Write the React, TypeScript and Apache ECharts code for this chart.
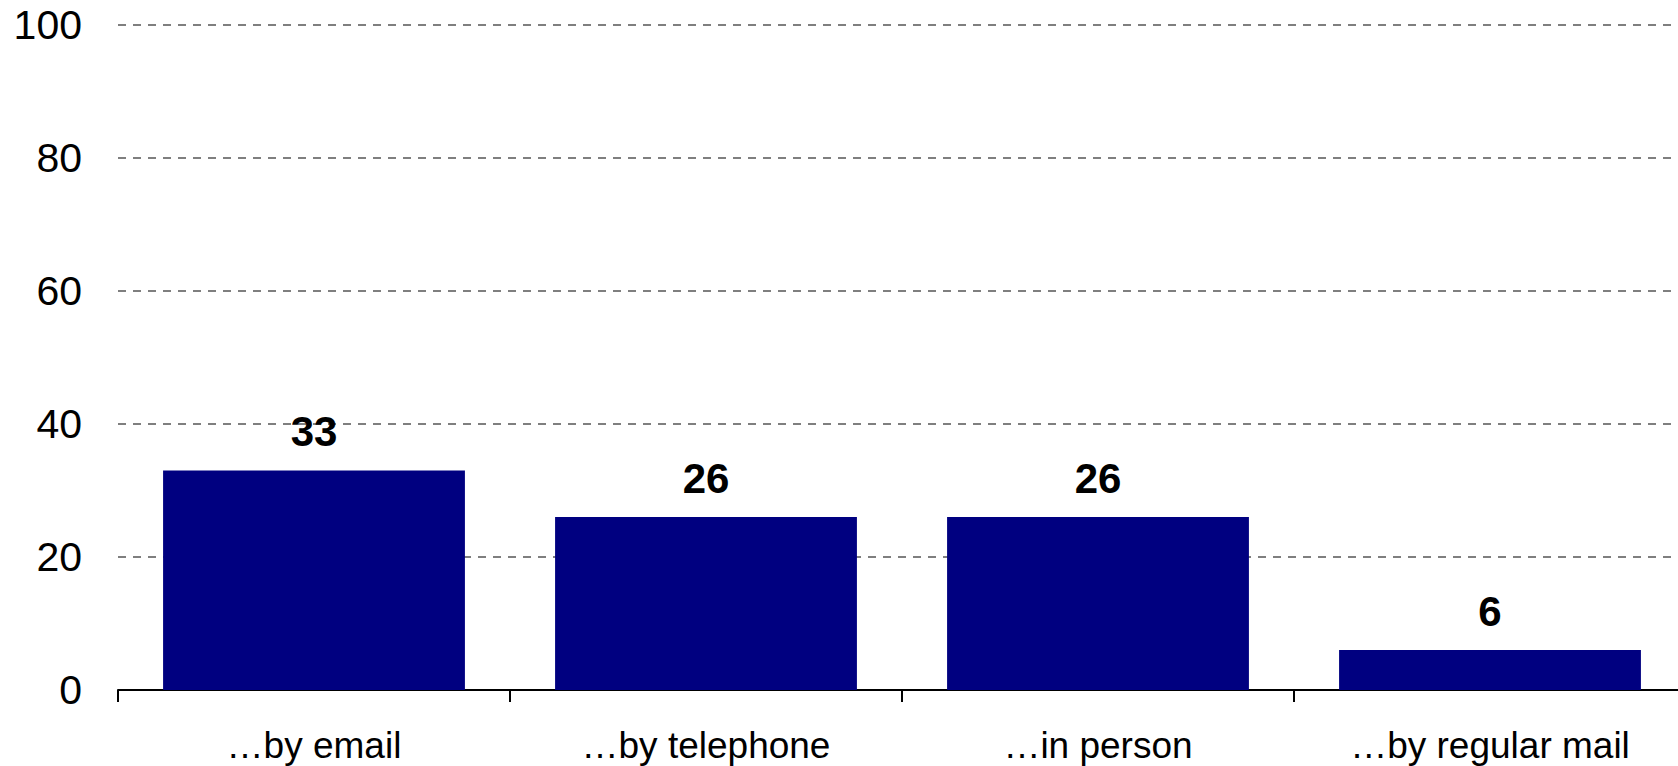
import React, { useEffect, useRef } from "react";
import * as echarts from "echarts";

const categories = ["…by email", "…by telephone", "…in person", "…by regular mail"];
const values = [33, 26, 26, 6];
const yTicks = [0, 20, 40, 60, 80, 100];

const FONT = "'Liberation Sans', Arial, sans-serif";

export default function App() {
  const ref = useRef<HTMLDivElement>(null);
  useEffect(() => {
    if (!ref.current) return;
    const chart = echarts.init(ref.current, undefined, { renderer: "svg" });
    chart.setOption({
      animation: false,
      backgroundColor: "#ffffff",
      grid: { left: 118, right: 0, top: 25, bottom: 76, containLabel: false },
      xAxis: {
        type: "category",
        data: categories,
        axisLine: { show: true, lineStyle: { color: "#000000", width: 2 } },
        axisTick: { show: true, length: 12, lineStyle: { color: "#000000", width: 2 } },
        axisLabel: { color: "#000000", fontSize: 37, fontFamily: FONT, margin: 37 },
        splitLine: { show: false },
      },
      yAxis: {
        type: "value",
        min: yTicks[0],
        max: yTicks[yTicks.length - 1],
        interval: yTicks[1] - yTicks[0],
        axisLine: { show: false },
        axisTick: { show: false },
        axisLabel: { color: "#000000", fontSize: 41, fontFamily: FONT, margin: 36 },
        splitLine: { show: true, lineStyle: { color: "#555555", width: 1.5, type: [8, 7] } },
      },
      series: [
        {
          type: "bar",
          data: values,
          barCategoryGap: "23%",
          itemStyle: { color: "#000080" },
          label: {
            show: true,
            position: "top",
            distance: 18,
            color: "#000000",
            fontSize: 42,
            fontWeight: "bold",
            fontFamily: FONT,
          },
        },
      ],
    });
    return () => chart.dispose();
  }, []);
  return (
    <div style={{ position: "absolute", left: 0, top: 0, width: 1678, height: 766, overflow: "hidden" }}>
      <div ref={ref} style={{ width: 1686, height: 766 }} />
    </div>
  );
}
